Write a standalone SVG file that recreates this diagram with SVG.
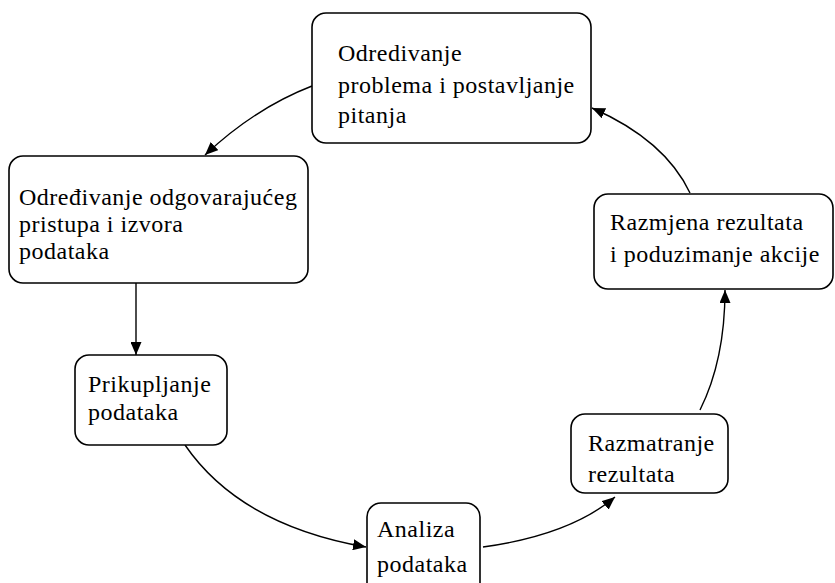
<svg xmlns="http://www.w3.org/2000/svg" width="835" height="583" viewBox="0 0 835 583">
<defs>
<style>
.box{fill:#fff;stroke:#000;stroke-width:1.6}
.t{font-size:24px;letter-spacing:0.5px;fill:#000}
.c{fill:none;stroke:#000;stroke-width:1.4}
</style>
<marker id="ah" viewBox="0 0 13 11" refX="13" refY="5.5" markerWidth="13" markerHeight="11" markerUnits="userSpaceOnUse" orient="auto">
<path d="M0,0 L13,5.5 L0,11 Z" fill="#000"/>
</marker>
</defs>
<rect width="835" height="583" fill="#fff"/>
<g id="connectors">
<path class="c" d="M312,86 Q255,108 205,155" marker-end="url(#ah)"/>
<path class="c" d="M136,283 L136,355" marker-end="url(#ah)" stroke-width="2"/>
<path class="c" d="M185,445 Q240,525 366,547" marker-end="url(#ah)"/>
<path class="c" d="M483,547 Q570,535 615,497" marker-end="url(#ah)"/>
<path class="c" d="M700,410 Q725,360 725,290" marker-end="url(#ah)"/>
<path class="c" d="M690,193 Q665,140 592,108" marker-end="url(#ah)"/>
</g>
<g font-family="'Liberation Serif', 'DejaVu Serif', serif">
<g id="n1">
<rect class="box" x="312" y="13" width="279" height="130" rx="14"/>
<text class="t" x="338" y="61">Odredivanje</text>
<text class="t" x="338" y="93">problema i postavljanje</text>
<text class="t" x="338" y="123">pitanja</text>
</g>
<g id="n2">
<rect class="box" x="9" y="156" width="299" height="127" rx="14"/>
<text class="t" x="19" y="205">Određivanje odgovarajućeg</text>
<text class="t" x="19" y="232">pristupa i izvora</text>
<text class="t" x="19" y="259">podataka</text>
</g>
<g id="n3">
<rect class="box" x="75" y="355" width="152" height="90" rx="14"/>
<text class="t" x="88" y="392">Prikupljanje</text>
<text class="t" x="88" y="420">podataka</text>
</g>
<g id="n4">
<rect class="box" x="367" y="503" width="113" height="95" rx="14"/>
<text class="t" x="377" y="537">Analiza</text>
<text class="t" x="377" y="572">podataka</text>
</g>
<g id="n5">
<rect class="box" x="571" y="414" width="157" height="79" rx="14"/>
<text class="t" x="588" y="451">Razmatranje</text>
<text class="t" x="588" y="482">rezultata</text>
</g>
<g id="n6">
<rect class="box" x="594" y="194" width="239" height="95" rx="14"/>
<text class="t" x="610" y="230">Razmjena rezultata</text>
<text class="t" x="610" y="262">i poduzimanje akcije</text>
</g>
</g>
</svg>
